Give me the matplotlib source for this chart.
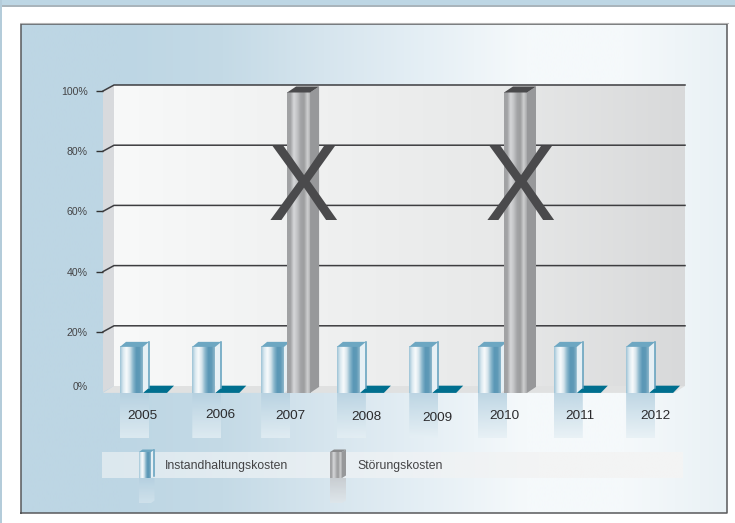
import numpy as np
import matplotlib
matplotlib.use("Agg")
import matplotlib.pyplot as plt
from matplotlib.colors import LinearSegmentedColormap, to_rgb
from matplotlib.patches import Polygon, Rectangle

plt.rcParams['font.family'] = ['Liberation Sans', 'DejaVu Sans']

# data
years = ['2005', '2006', '2007', '2008', '2009', '2010', '2011', '2012']
instandhaltung = [15, 15, 15, 15, 15, 15, 15, 15]
stoerung = [0, 0, 99.5, 0, 0, 99.5, 0, 0]
y_ticks = [20, 40, 60, 80, 100]
legend_names = ['Instandhaltungskosten', 'Störungskosten']

# layout in pixels
W, H = 735, 523
AX_L, AX_R, AX_T, AX_B = 103, 685, 91, 392
STEP = 72.3        # px per category
FIRST = 120        # px of the first bar
BAR_W = 23
year_px = [142, 220, 290, 366, 437, 504, 580, 655]
year_py = [416, 415, 416, 417, 418, 416, 416, 416]

BLUE = ['#9cc3d6', '#dbe9f0', '#f8fbfc', '#d5e4ec', '#8ab7cc', '#5a97b6', '#5f9ab7', '#8fb8cc']
GREY = ['#a1a2a4', '#a1a2a4', '#d6d7d9', '#c2c3c5', '#a3a4a6', '#9d9e9f', '#cfd0d1', '#a6a7a9']

fig = plt.figure(figsize=(W / 100, H / 100), dpi=100, facecolor='white')

# background in pixel coords
bg = fig.add_axes([0, 0, 1, 1])
bg.set_xlim(0, W)
bg.set_ylim(H, 0)
bg.axis('off')


def hgrad(axis, colors, x0, x1, y0, y1, **kw):
    cmap = LinearSegmentedColormap.from_list('g', colors)
    return axis.imshow(np.linspace(0, 1, 256).reshape(1, -1), cmap=cmap, aspect='auto',
                       extent=(x0, x1, y1, y0), interpolation='bilinear', **kw)


bg.add_patch(Rectangle((0, 0), W, 5, color='#bdd6e4', lw=0))
bg.add_patch(Rectangle((0, 5), W, 1.5, color='#a9b4bb', lw=0))
bg.add_patch(Rectangle((0, 0), 2, H, color='#b4ccda', lw=0))
hgrad(bg, ['#bdd6e4', '#bdd6e4', '#c4dae6', '#d6e5ee', '#e5eff5', '#f5f9fb', '#f5f9fb', '#e9f1f5'],
      21, 727, 24, 513)
bg.plot([21.5, 21.5, 727, 727, 21.5], [513, 24, 24, 513, 513], color='#58595b', lw=1.1)
bg.plot([21, 728], [23.2, 23.2], color='#b5b5b5', lw=0.8)
bg.set_xlim(0, W)
bg.set_ylim(H, 0)

# chart axes
ax = fig.add_axes([AX_L / W, 1 - AX_B / H, (AX_R - AX_L) / W, (AX_B - AX_T) / H])
ax.patch.set_alpha(0)
xlim = ((AX_L - FIRST) / STEP, (AX_R - FIRST) / STEP)
ylim = (0, 100)
PX = 1 / STEP
PY = 100 / (AX_B - AX_T)
depth_x, depth_y = 11 * PX, 6 * PY

# walls and floor
back_l = xlim[0] + depth_x
hgrad(ax, ['#f8f9f9', '#f0f1f1', '#e8e9e9', '#d8d9da'], back_l, xlim[1], depth_y, 100 + depth_y,
      zorder=1, clip_on=False)
ax.add_patch(Polygon([(xlim[0], 0), (back_l, depth_y), (back_l, 100 + depth_y), (xlim[0], 100)],
                     color='#d8dadd', lw=0, zorder=1, clip_on=False))
ax.add_patch(Polygon([(xlim[0], -0.3), (back_l, depth_y), (xlim[1], depth_y), (xlim[1] - depth_x, -0.3)],
                     color='#e0e1e1', lw=0, zorder=1, clip_on=False))

# grid lines, running over the side wall to the tick
for v in y_ticks:
    ax.plot([xlim[0], back_l, xlim[1]], [v, v + depth_y, v + depth_y], color='#3d3d40',
            lw=1.1, zorder=2, clip_on=False, solid_joinstyle='miter')


def bar3d(axis, x0, w, base, top, dx, dy, colors, side, edge, cap, z):
    hgrad(axis, colors, x0, x0 + w, base, top, zorder=z, clip_on=False)
    axis.add_patch(Polygon([(x0 + w, base), (x0 + w + dx, base + dy), (x0 + w + dx, top + dy), (x0 + w, top)],
                           facecolor=side, edgecolor='none', zorder=z, clip_on=False))
    if edge:
        axis.plot([x0 + w + dx, x0 + w + dx], [base + dy, top + dy], color=edge, lw=1.1, zorder=z, clip_on=False)
    axis.add_patch(Polygon([(x0, top), (x0 + dx, top + dy), (x0 + w + dx, top + dy), (x0 + w, top)],
                           facecolor=cap, edgecolor='none', zorder=z, clip_on=False))


def mirror(axis, x0, w, base, length, dx, dy, c_top, c_end, z):
    # faded reflection under a bar
    img = np.zeros((64, 1, 4))
    img[..., :3] = np.linspace(to_rgb(c_top), to_rgb(c_end), 64).reshape(64, 1, 3)
    img[..., 3] = np.linspace(0.85, 0.75, 64).reshape(-1, 1)
    im = axis.imshow(img, aspect='auto', extent=(x0, x0 + w + dx, base - length, base),
                     zorder=z, interpolation='bilinear')
    shape = Polygon([(x0, base), (x0 + w + dx, base), (x0 + w + dx, base - length - dy),
                     (x0 + w, base - length), (x0, base - length)], transform=axis.transData)
    im.set_clip_box(fig.bbox)
    im.set_clip_path(shape)


for i, (a, b) in enumerate(zip(instandhaltung, stoerung)):
    tall = b > 0
    x0 = i - (3.5 * PX if tall else 0)
    w = BAR_W * PX
    if a > 0:
        mirror(ax, x0, w, -0.3, a, 6 * PX, 6 * PY, '#b4d0e0', '#e6f0f5', 3)
    if tall:
        bar3d(ax, x0, w, -0.3, a, 6 * PX, 5 * PY, BLUE, '#e6f0f5', '#5f9fbc', '#6da7c2', 4)
        bar3d(ax, x0 + 26 * PX, w, -0.3, b, 9 * PX, 6 * PY, GREY, '#97989a', None, '#4a4a4c', 5)
        ax.text(x0 + 26 * PX + w / 2 + 4.5 * PX, 66.3, 'X', ha='center', va='center', fontsize=77,
                color='#4a4a4c', zorder=6)
    else:
        # flat bar for the zero value
        ax.add_patch(Polygon([(x0 + w, -0.3), (x0 + w + 6 * PX, 2.1), (x0 + w + 31 * PX, 2.1), (x0 + w + 24 * PX, -0.3)],
                             color='#006f8f', lw=0, zorder=3.5, clip_on=False))
        bar3d(ax, x0, w, -0.3, a, 6 * PX, 5 * PY, BLUE, '#e6f0f5', '#5f9fbc', '#6da7c2', 4)

ax.set_xlim(xlim)
ax.set_ylim(ylim)
ax.set_xticks([])
ax.set_yticks(y_ticks)
ax.set_yticklabels([str(v) + '%' for v in y_ticks], fontsize=7.6, color='#444446')
ax.tick_params(axis='y', length=5, width=1, color='#333333', pad=6)
for s in ax.spines.values():
    s.set_visible(False)

# 0% sits a bit higher than the others and has no tick
bg.text(80, 386.5, '0%', fontsize=7.6, color='#444446', ha='center', va='center')
# year labels go on the figure so they stay above the reflections
for name, px, py in zip(years, year_px, year_py):
    fig.text(px / W, 1 - py / H, name, fontsize=9.7, color='#2b2b2d', ha='center', va='center')

# legend strip
hgrad(bg, ['#dce8ee', '#e3ecf1', '#ecf1f4', '#f3f4f4', '#f3f4f4'], 102, 683, 452, 478, zorder=2)
bg.set_xlim(0, W)
bg.set_ylim(H, 0)
bar3d(bg, 139, 12, 478, 452, 3.5, -2.5, BLUE, '#e6f0f5', '#5f9fbc', '#6da7c2', 3)
mirror(bg, 139, 12, 478, -25, 3.5, 2.5, '#b4d0e0', '#d5e5ee', 3)
bar3d(bg, 330, 12, 478, 452, 4, -2.5, GREY, '#97989a', None, '#8a8b8d', 3)
mirror(bg, 330, 12, 478, -25, 4, 2.5, '#c6c9cc', '#e0e6ea', 3)
bg.set_xlim(0, W)
bg.set_ylim(H, 0)
bg.text(165, 466, legend_names[0], fontsize=8.8, color='#434345', va='center', zorder=4)
bg.text(357, 466, legend_names[1], fontsize=8.8, color='#434345', va='center', zorder=4)

fig.savefig('out.png', dpi=100)
